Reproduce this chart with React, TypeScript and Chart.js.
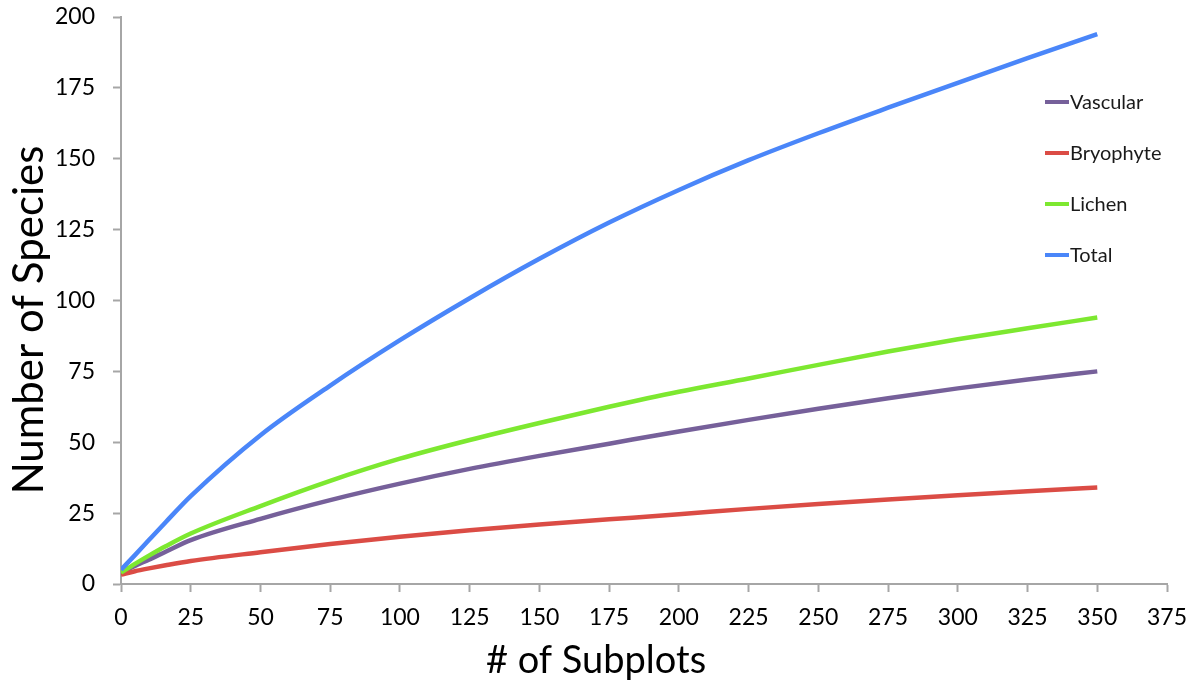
import { useEffect, useRef } from 'react';
import { Chart, registerables } from 'chart.js';

Chart.register(...registerables);

// ---- data ----
const subplots = [0, 5, 10, 16, 25, 50, 75, 100, 125, 150, 175, 200, 225, 250, 275, 300, 325, 350];
const vascular = [4, 6.4, 8.6, 11.4, 15.5, 23, 29.6, 35.4, 40.6, 45.2, 49.5, 53.8, 57.9, 61.8, 65.5, 69, 72.1, 75];
const bryophyte = [3.3, 4.5, 5.5, 6.6, 8.1, 11.2, 14.1, 16.7, 19, 21, 22.8, 24.6, 26.5, 28.2, 29.8, 31.3, 32.7, 34];
const lichen = [4, 7.1, 10, 13.3, 17.8, 27.5, 36.4, 44.2, 50.8, 56.8, 62.5, 67.8, 72.5, 77.3, 82, 86.3, 90.2, 94];
const total = [5, 10.2, 15.5, 21.8, 31, 52.5, 70, 86, 100.8, 114.7, 127.5, 139, 149.5, 159, 168, 176.8, 185.5, 194];

const seriesNames = ['Vascular', 'Bryophyte', 'Lichen', 'Total'];
const seriesColors = ['#76609a', '#db4c45', '#7de830', '#4a86f9'];

const xTitle = '# of Subplots';
const yTitle = 'Number of Species';
const xMax = 375;
const yMax = 200;
const tickStep = 25;

const FONT = 'Lato, "Open Sans", sans-serif';

const extrasPlugin = {
  id: 'extras',
  afterDraw(chart: any) {
    const ctx = chart.ctx;
    ctx.save();
    // axis titles
    ctx.fillStyle = '#000';
    ctx.font = `38px ${FONT}`;
    ctx.textAlign = 'center';
    ctx.textBaseline = 'alphabetic';
    ctx.fillText(xTitle, 596, 673);
    ctx.save();
    ctx.translate(43, 320);
    ctx.rotate(-Math.PI / 2);
    ctx.font = `42px ${FONT}`;
    ctx.fillText(yTitle, 0, 0);
    ctx.restore();
    // legend
    ctx.font = `20px ${FONT}`;
    ctx.textAlign = 'left';
    ctx.textBaseline = 'middle';
    chart.data.datasets.forEach((ds: any, i: number) => {
      const y = 102 + i * 51;
      ctx.strokeStyle = ds.borderColor;
      ctx.lineWidth = 4;
      ctx.beginPath();
      ctx.moveTo(1045, y);
      ctx.lineTo(1069, y);
      ctx.stroke();
      ctx.fillStyle = '#1a1a1a';
      ctx.fillText(ds.label, 1070, y + 1);
    });
    ctx.restore();
  },
};

export default function App() {
  const ref = useRef<HTMLCanvasElement | null>(null);

  useEffect(() => {
    if (!ref.current) return;
    const series = [vascular, bryophyte, lichen, total];
    const datasets = series.map((vals, i) => ({
      label: seriesNames[i],
      data: subplots.map((x, j) => ({ x, y: vals[j] })),
      borderColor: seriesColors[i],
      backgroundColor: seriesColors[i],
      borderWidth: 4.5,
      pointRadius: 0,
      cubicInterpolationMode: 'monotone' as const,
      fill: false,
      order: 3 - i,
    }));
    const axisColor = '#a6a6a6';
    const chart = new Chart(ref.current, {
      type: 'line',
      data: { datasets },
      options: {
        animation: false,
        responsive: false,
        layout: { padding: { top: 17, right: 32, left: 0, bottom: 0 } },
        plugins: { legend: { display: false }, tooltip: { enabled: false } },
        scales: {
          x: {
            type: 'linear',
            min: 0,
            max: xMax,
            ticks: {
              stepSize: tickStep,
              color: '#000',
              font: { family: FONT, size: 23 },
              padding: 12,
              maxRotation: 0,
              autoSkip: false,
            },
            grid: {
              drawOnChartArea: false,
              drawTicks: true,
              tickLength: 8,
              tickWidth: 2,
              tickColor: axisColor,
              color: axisColor,
            },
            border: { display: true, color: axisColor, width: 2 },
            afterFit: (scale: any) => {
              scale.height = 101;
              scale.paddingLeft = 0;
              scale.paddingRight = 0;
            },
          },
          y: {
            type: 'linear',
            min: 0,
            max: yMax,
            ticks: {
              stepSize: tickStep,
              color: '#000',
              font: { family: FONT, size: 23 },
              padding: 18,
            },
            grid: {
              drawOnChartArea: false,
              drawTicks: true,
              tickLength: 8,
              tickWidth: 2,
              tickColor: axisColor,
              color: axisColor,
            },
            border: { display: true, color: axisColor, width: 2 },
            afterFit: (scale: any) => {
              scale.width = 121;
              scale.paddingTop = 0;
              scale.paddingBottom = 0;
            },
          },
        },
      },
      plugins: [extrasPlugin],
    });
    return () => chart.destroy();
  }, []);

  return (
    <div style={{ position: 'fixed', left: 0, top: 0, width: 1199, height: 685, background: '#fff' }}>
      <canvas ref={ref} width={1199} height={685} style={{ display: 'block' }} />
    </div>
  );
}
